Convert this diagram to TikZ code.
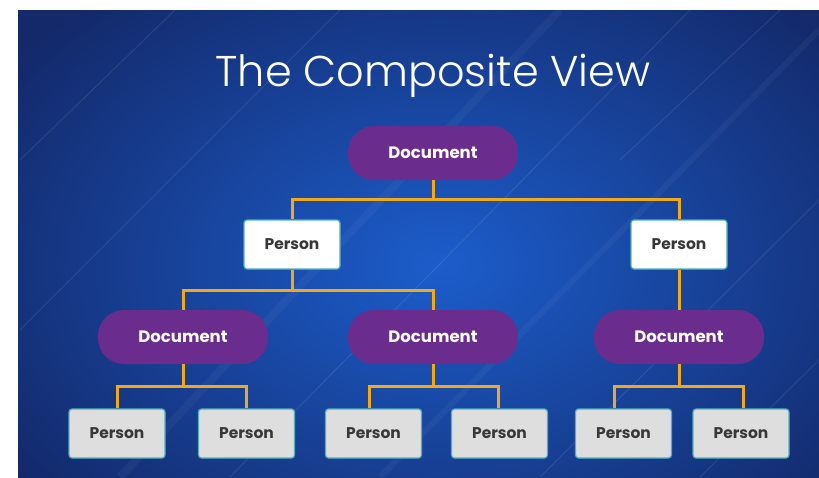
\documentclass[tikz,border=0pt]{standalone}
\usepackage{fontspec}
\setmainfont{Poppins}
\newfontfamily\titlefont{Poppins Light}
\usetikzlibrary{calc}
\definecolor{bgin}{HTML}{1C5DCB}
\definecolor{bgout}{HTML}{13296A}
\definecolor{docpurple}{HTML}{6A2D8E}
\definecolor{tealedge}{HTML}{4DB3B9}
\definecolor{persgray}{HTML}{DEDEDE}
\definecolor{txtdark}{HTML}{383838}
\definecolor{connorange}{HTML}{F2A81D}
\tikzset{
  docnode/.style={fill=docpurple, text=white, font=\bfseries\fontsize{16.5}{19}\selectfont,
    minimum width=170pt, minimum height=54pt, rounded corners=26pt, inner sep=0pt},
  personbox/.style={fill=white, draw=tealedge, line width=1.2pt, text=txtdark,
    font=\bfseries\fontsize{15.5}{18}\selectfont, minimum width=96pt, minimum height=49pt,
    rounded corners=3pt, inner sep=0pt},
  leafbox/.style={personbox, fill=persgray},
  conn/.style={draw=connorange, line width=3pt},
  streak/.style={draw=white, line width=1pt, opacity=0.09}
}
\begin{document}
\begin{tikzpicture}[x=1pt,y=-1pt]
\useasboundingbox (0,0) rectangle (819,477);
\fill[white] (0,0) rectangle (819,477);
\begin{scope}
\clip (18,10) rectangle (819,477);
\shade[inner color=bgin, outer color=bgout] (-80,-90) rectangle (960,620);
% faint diagonal streaks
\draw[streak] (20,160) -- (175,10);
\draw[streak] (20,330) -- (340,10);
\draw[streak, line width=8pt, opacity=0.04] (120,477) -- (560,10);
\draw[streak] (230,477) -- (690,10);
\draw[streak] (540,477) -- (819,200);
\draw[streak] (620,160) -- (780,10);
\draw[streak] (700,477) -- (819,360);
\draw[streak, line width=6pt, opacity=0.04] (380,477) -- (819,30);
\end{scope}
\node[font=\titlefont\fontsize{43}{50}\selectfont, text=white, anchor=base] (title) at (433,86) {The Composite View};
% level 0
\node[docnode] (doc0) at (433,153) {Document};
% level 1
\node[personbox] (p1) at (292,244.5) {Person};
\node[personbox] (p2) at (679,244.5) {Person};
% level 2
\node[docnode] (d1) at (183,337) {Document};
\node[docnode] (d2) at (433,337) {Document};
\node[docnode] (d3) at (679,337) {Document};
% level 3
\node[leafbox] (b1) at (117,433.5) {Person};
\node[leafbox] (b2) at (246.5,433.5) {Person};
\node[leafbox] (b3) at (373.5,433.5) {Person};
\node[leafbox] (b4) at (499.5,433.5) {Person};
\node[leafbox] (b5) at (623.5,433.5) {Person};
\node[leafbox] (b6) at (741,433.5) {Person};
% connectors
\draw[conn] (doc0.south) -- ++(0,19) -| (p1.north);
\draw[conn] (doc0.south) -- ++(0,19) -| (p2.north);
\draw[conn] (p1.south) -- ++(0,21) -| (d1.north);
\draw[conn] (p1.south) -- ++(0,21) -| (d2.north);
\draw[conn] (p2.south) -- (d3.north);
\draw[conn] (d1.south) -- ++(0,22) -| (b1.north);
\draw[conn] (d1.south) -- ++(0,22) -| (b2.north);
\draw[conn] (d2.south) -- ++(0,22) -| ($(b3.north)+(-4,0)$);
\draw[conn] (d2.south) -- ++(0,22) -| ($(b4.north)+(-1,0)$);
\draw[conn] (d3.south) -- ++(0,22) -| ($(b5.north)+(-9,0)$);
\draw[conn] (d3.south) -- ++(0,22) -| ($(b6.north)+(2,0)$);
\end{tikzpicture}
\end{document}
